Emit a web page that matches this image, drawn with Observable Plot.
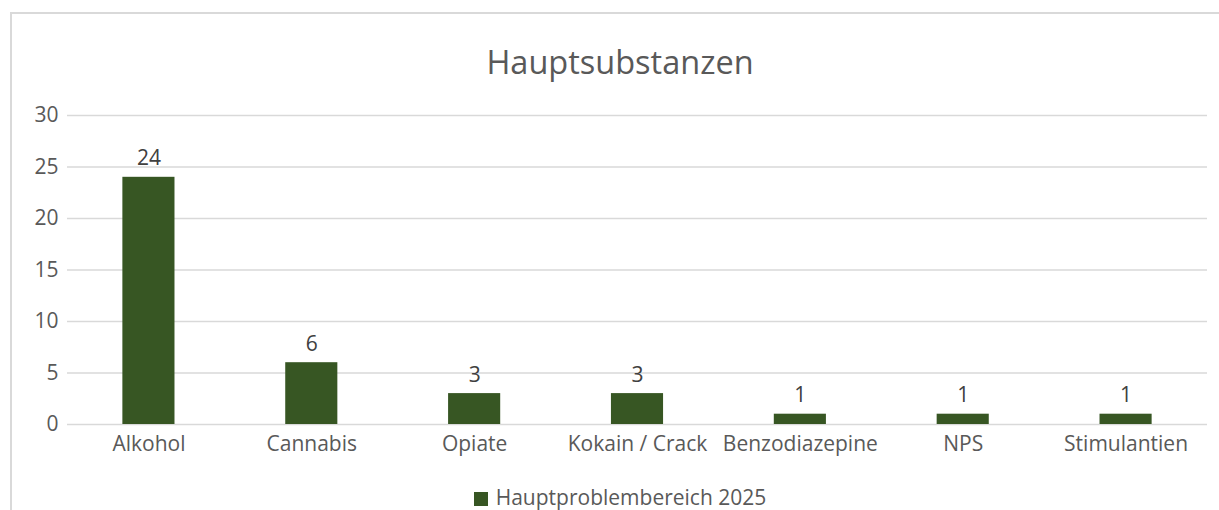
<!DOCTYPE html>
<html>
<head>
<meta charset="utf-8">
<script src="https://cdn.jsdelivr.net/npm/d3@7"></script>
<script src="https://cdn.jsdelivr.net/npm/@observablehq/plot@0.6"></script>
<style>
  html, body { margin: 0; padding: 0; background: #fff; }
  #wrap { position: relative; width: 1219px; height: 510px; overflow: hidden; font-family: "Open Sans", sans-serif; }
  #frame { position: absolute; left: 10px; top: 12px; width: 1230px; height: 520px; border: 2px solid #d9d9d9; box-sizing: border-box; }
  #title { position: absolute; left: 0; width: 1240px; top: 39px; text-align: center; font-size: 32.5px; color: #595959; line-height: 46px; }
  #chart { position: absolute; left: 0; top: 95px; }
  #legend { position: absolute; left: 0; width: 1240px; top: 483px; text-align: center; font-size: 21px; color: #595959; line-height: 28px; }
  #legend .sw { display: inline-block; width: 14px; height: 14px; background: #375623; margin-right: 8px; vertical-align: -1px; }
</style>
</head>
<body>
<div id="wrap">
  <div id="frame"></div>
  <div id="title">Hauptsubstanzen</div>
  <div id="chart"></div>
  <div id="legend"><span class="sw"></span>Hauptproblembereich 2025</div>
</div>
<script>
const categories = ["Alkohol", "Cannabis", "Opiate", "Kokain / Crack", "Benzodiazepine", "NPS", "Stimulantien"];
const values = [24, 6, 3, 3, 1, 1, 1];
const yTicks = [0, 5, 10, 15, 20, 25, 30];
const seriesName = "Hauptproblembereich 2025";

const data = categories.map((c, i) => ({category: c, value: values[i]}));

const chart = Plot.plot({
  width: 1219,
  height: 370,
  marginTop: 20,
  marginBottom: 41,
  marginLeft: 67,
  marginRight: 12,
  style: {fontFamily: "'Open Sans', sans-serif", fontSize: "21px", color: "#595959", background: "transparent"},
  x: {domain: categories, paddingInner: 0.68, paddingOuter: 0.34, round: false, label: null},
  y: {domain: [0, 30], label: null},
  marks: [
    Plot.ruleY(yTicks, {stroke: "#d9d9d9", strokeWidth: 1.5}),
    Plot.barY(data, {x: "category", y: "value", fill: "#375623"}),
    Plot.text(data, {x: "category", y: "value", text: d => String(d.value), lineAnchor: "bottom", dy: -12, fill: "#404040", fontSize: 21}),
    Plot.axisY({ticks: yTicks, tickSize: 0, tickPadding: 9, fill: "#595959", fontSize: 21, label: null}),
    Plot.axisX({tickSize: 0, tickPadding: 12, fill: "#595959", fontSize: 21, label: null})
  ]
});
document.getElementById("chart").appendChild(chart);
</script>
</body>
</html>
